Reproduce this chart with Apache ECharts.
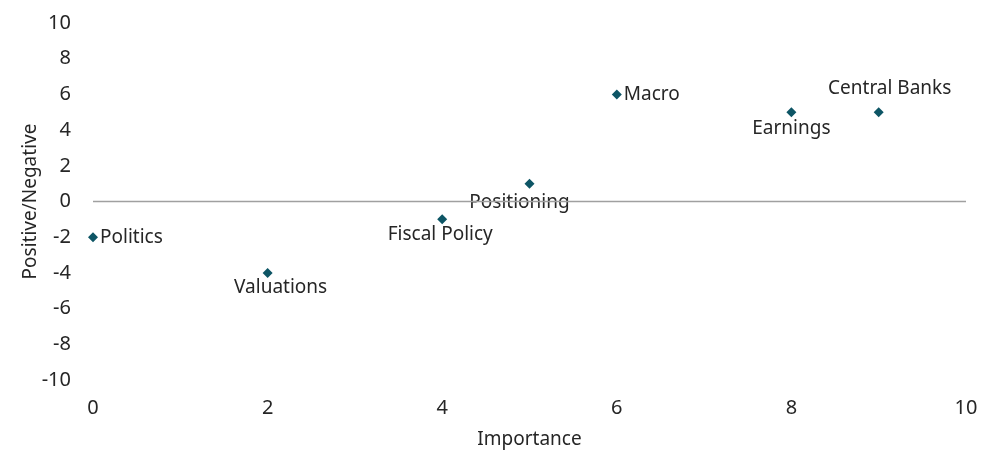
<!DOCTYPE html>
<html>
<head>
<meta charset="utf-8">
<script src="https://cdn.jsdelivr.net/npm/echarts@6/dist/echarts.min.js"></script>
<style>html,body{margin:0;padding:0;background:#fff}#c{width:983px;height:450px}</style>
</head>
<body>
<div id="c"></div>
<script>
const names = ["Politics", "Valuations", "Fiscal Policy", "Positioning", "Macro", "Earnings", "Central Banks"];
const importance = [0, 2, 4, 5, 6, 8, 9];
const sentiment = [-2, -4, -1, 1, 6, 5, 5];
const xTicks = [0, 2, 4, 6, 8, 10];
const yTicks = [-10, -8, -6, -4, -2, 0, 2, 4, 6, 8, 10];

const labelStyle = {
  "Politics": {position: "right", distance: 2},
  "Valuations": {position: "bottom", distance: 0, offset: [13, 0]},
  "Fiscal Policy": {position: "bottom", distance: 1, offset: [-2, 0]},
  "Positioning": {position: "bottom", distance: 4, offset: [-10, 0]},
  "Macro": {position: "right", distance: 2},
  "Earnings": {position: "bottom", distance: 2},
  "Central Banks": {position: "top", distance: 9, offset: [11, 0]}
};

const font = "'Noto Sans', sans-serif";
const txt = "#262626";

const data = names.map((n, i) => ({
  name: n,
  value: [importance[i], sentiment[i]],
  label: Object.assign({show: true, formatter: n, fontSize: 19, color: txt, fontFamily: font}, labelStyle[n])
}));

const chart = echarts.init(document.getElementById('c'), null, {renderer: 'canvas'});
chart.setOption({
  animation: false,
  grid: {left: 93, right: 17, top: 23, bottom: 70, outerBoundsMode: 'none', containLabel: false},
  xAxis: {
    type: 'value', min: xTicks[0], max: xTicks[xTicks.length - 1], interval: 2,
    axisLine: {show: false}, axisTick: {show: false}, splitLine: {show: false},
    axisLabel: {fontSize: 20, color: txt, fontFamily: font, margin: 18},
    name: "Importance", nameLocation: 'middle', nameGap: 50, nameMoveOverlap: false,
    nameTextStyle: {fontSize: 19, color: txt, fontFamily: font}
  },
  yAxis: {
    type: 'value', min: yTicks[0], max: yTicks[yTicks.length - 1], interval: 2,
    axisLine: {show: false}, axisTick: {show: false}, splitLine: {show: false},
    axisLabel: {fontSize: 20, color: txt, fontFamily: font, margin: 22},
    name: "Positive/Negative", nameLocation: 'middle', nameGap: 53, nameMoveOverlap: false,
    nameTextStyle: {fontSize: 19, color: txt, fontFamily: font}
  },
  series: [{
    type: 'scatter',
    symbol: 'diamond',
    symbolSize: 10,
    itemStyle: {color: '#0d5565', opacity: 1},
    data: data,
    markLine: {
      silent: true, symbol: 'none', label: {show: false},
      lineStyle: {color: '#a0a0a0', width: 1.3, type: 'solid'},
      data: [{yAxis: 0}]
    },
    z: 3
  }]
});
</script>
</body>
</html>
